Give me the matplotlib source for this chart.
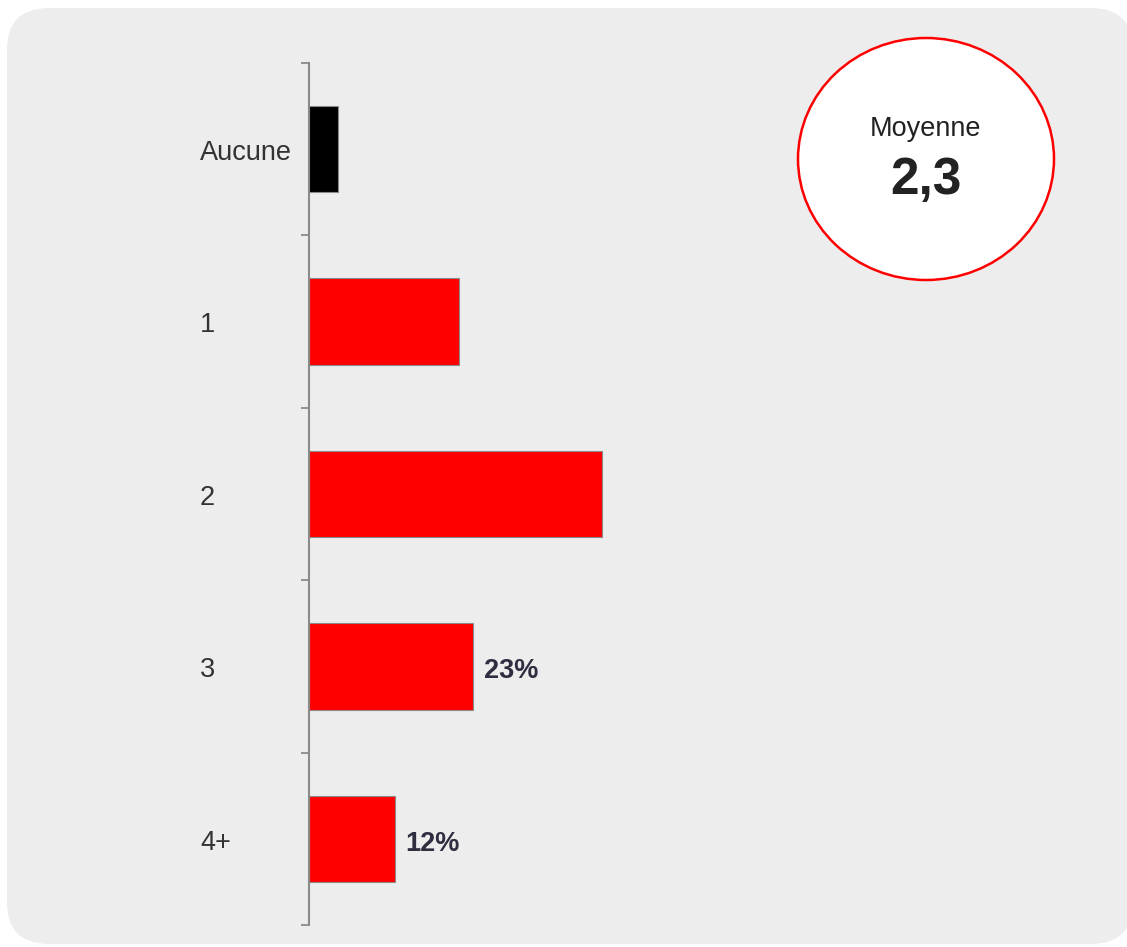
import matplotlib
matplotlib.use("Agg")
import matplotlib.pyplot as plt
from matplotlib.patches import FancyBboxPatch, Ellipse
import matplotlib.transforms as mtransforms

categories = ["Aucune", "1", "2", "3", "4+"]
values = [4, 21, 41, 23, 12]
bar_colors = ["#000000", "#ff0000", "#ff0000", "#ff0000", "#ff0000"]
value_labels = [None, None, None, "23%", "12%"]
mean_title = "Moyenne"
mean_value = "2,3"

W, H = 1127, 947
plt.rcParams["font.family"] = ["Liberation Sans", "DejaVu Sans"]
fig = plt.figure(figsize=(W / 100, H / 100), dpi=100)
fig.patch.set_facecolor("white")

# background overlay axes in pixel coordinates
bg = fig.add_axes([0, 0, 1, 1])
bg.set_xlim(0, W)
bg.set_ylim(H, 0)
bg.axis("off")
bg.add_patch(FancyBboxPatch((7, 8), 1126, 936, boxstyle="round,pad=0,rounding_size=42",
                            facecolor="#ededed", edgecolor="none"))

# main axes
left_px, right_px = 309, 1009
top_px, bot_px = 63, 925
ax = fig.add_axes([left_px / W, (H - bot_px) / H, (right_px - left_px) / W, (bot_px - top_px) / H])
ax.set_facecolor("none")
px_per_unit = 7.15
ax.set_xlim(0, (right_px - left_px) / px_per_unit)
ax.set_ylim(len(categories) - 0.5, -0.5)

ypos = list(range(len(categories)))
ax.barh(ypos, values, height=0.5, color=bar_colors, edgecolor="#8a8a8a", linewidth=0.8, zorder=3)

for y, v, lab in zip(ypos, values, value_labels):
    if lab:
        ax.annotate(lab, (v, y), xytext=(7.5, -3.5), textcoords="offset points",
                    ha="left", va="center", fontsize=19.5, fontweight="bold", color="#2e2e40")

for s in ["top", "right", "bottom"]:
    ax.spines[s].set_visible(False)
ax.spines["left"].set_color("#8a8a8a")
ax.spines["left"].set_linewidth(1.5)
ax.set_xticks([])
ax.set_yticks([i - 0.5 for i in range(len(categories) + 1)])
ax.set_yticklabels([])
ax.tick_params(axis="y", direction="out", length=6, width=1.3, color="#8a8a8a")

trans = mtransforms.blended_transform_factory(bg.transData, ax.transData)
for y, cat in zip(ypos, categories):
    ax.annotate(cat, (200, y), xycoords=trans, xytext=(0, -2.8), textcoords="offset points",
                ha="left", va="center", fontsize=19.5, color="#333333")

# mean circle
bg.add_patch(Ellipse((926, 159), 256, 242, facecolor="white", edgecolor="#ff0000", linewidth=1.8))
bg.text(926, 129, mean_title, ha="center", va="center", fontsize=19.5, color="#222222")
bg.text(926, 180, mean_value, ha="center", va="center", fontsize=37, fontweight="bold", color="#222222")

fig.savefig("out.png", dpi=100)
